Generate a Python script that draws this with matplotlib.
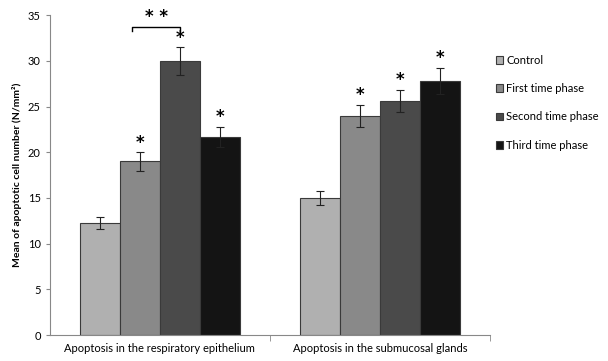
import numpy as np
import matplotlib.pyplot as plt

plt.rcParams['font.family'] = ['Lato', 'DejaVu Sans']

categories = ["Apoptosis in the respiratory epithelium", "Apoptosis in the submucosal glands"]
series = ["Control", "First time phase", "Second time phase", "Third time phase"]
values = [[12.3, 15.0],
          [19.0, 24.0],
          [30.0, 25.6],
          [21.7, 27.8]]
errors = [[0.65, 0.75],
          [1.0, 1.2],
          [1.5, 1.25],
          [1.1, 1.45]]
# significance stars (1 = marked)
stars = [[0, 0],
         [1, 1],
         [1, 1],
         [1, 1]]
colors = ["#b0b0b0", "#898989", "#4a4a4a", "#141414"]

fig = plt.figure(figsize=(6.08, 3.61), dpi=100)
ax = fig.add_axes([0.082, 0.072, 0.724, 0.886])

x = np.arange(len(categories))
w = 0.182
for i, s in enumerate(series):
    xs = x + (i - 1.5) * w
    ax.bar(xs, values[i], w, color=colors[i], edgecolor="#3a3a3a", linewidth=0.8,
           label=s, yerr=errors[i], capsize=3,
           error_kw=dict(elinewidth=0.8, capthick=0.8, ecolor="#222222"))
    for j in range(len(categories)):
        if stars[i][j]:
            ax.text(xs[j], values[i][j] + errors[i][j] + 0.05, "*", ha="center", va="bottom",
                    fontsize=12, fontweight="bold", family="DejaVu Sans")

# bracket between first and second time phase (epithelium)
x1 = x[0] + (1 - 1.5) * w - 0.035
x2 = x[0] + (2 - 1.5) * w
ax.plot([x1, x1, x2, x2], [33.3, 33.7, 33.7, 33.3], color="black", linewidth=1)
ax.text((x1 + x2) / 2, 33.8, "* *", ha="center", va="bottom", fontsize=12,
        fontweight="bold", family="DejaVu Sans")

ax.set_xlim(-0.5, 1.5)
ax.set_ylim(0, 35)
ax.set_yticks(range(0, 36, 5))
ax.set_xticks(x)
ax.set_xticklabels(categories, fontsize=8)
ax.set_xticks([0.5, 1.5], minor=True)
ax.tick_params(axis="x", which="major", length=0, pad=6)
ax.tick_params(axis="x", which="minor", length=4, color="#888888")
ax.tick_params(axis="y", labelsize=8, length=3, color="#888888")
ax.set_ylabel("Mean of apoptotic cell number (N/mm²)", fontsize=7.5, fontweight="bold")

for sp in ["top", "right"]:
    ax.spines[sp].set_visible(False)
for sp in ["left", "bottom"]:
    ax.spines[sp].set_color("#888888")

ax.legend(loc="upper left", bbox_to_anchor=(0.995, 0.9), frameon=False, fontsize=8,
          handlelength=0.7, handleheight=0.7, handletextpad=0.25, labelspacing=1.55,
          borderaxespad=0.3)

fig.savefig("out.png", dpi=100)
